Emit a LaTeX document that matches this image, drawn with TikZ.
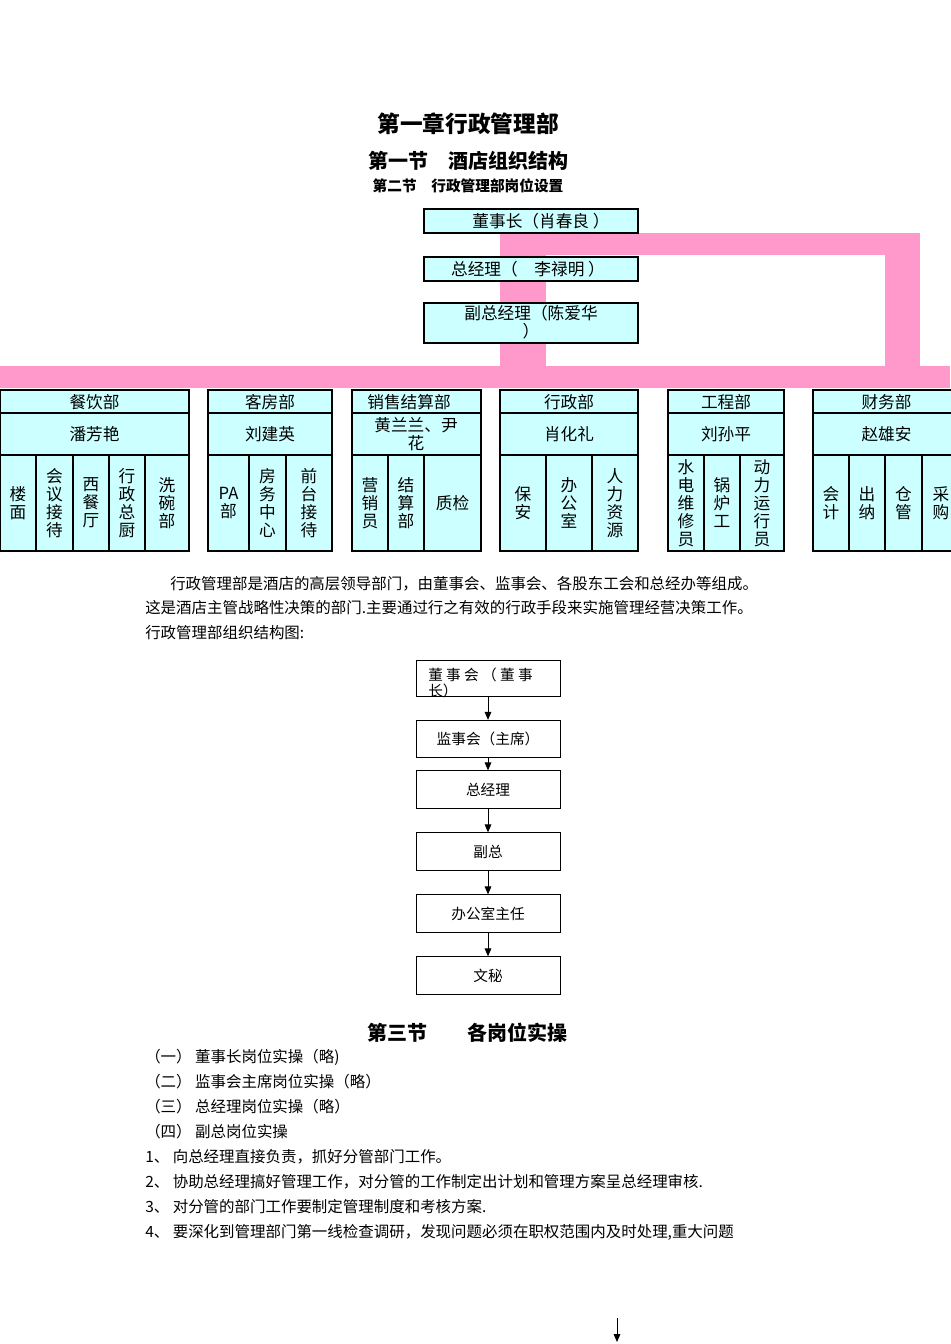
\documentclass[tikz,border=0pt]{standalone}
\usepackage{fontspec}
\setmainfont{Liberation Serif}
\newfontfamily\cjk{Noto Sans CJK SC}
\usetikzlibrary{arrows.meta}
\definecolor{pinkb}{HTML}{FF99CC}
\definecolor{cyanb}{HTML}{CCFFFF}
\begin{document}
\begin{tikzpicture}[x=0.75pt,y=-0.75pt,
 cbox/.style={draw=black,line width=0.8pt,fill=cyanb},
 t/.style={font=\cjk\fontsize{12.5}{13.5}\selectfont,align=center,inner sep=0},
 bt/.style={font=\cjk\fontsize{11.6}{16}\selectfont,anchor=west,inner sep=0},
 fbox/.style={draw=black,line width=0.7pt},
 arr/.style={-{Triangle[length=6pt,width=5pt]},line width=0.7pt}]
\useasboundingbox (0,0) rectangle (950,1344);
% pink bands
\fill[pinkb] (500,233) rectangle (920,255);
\fill[pinkb] (885,233) rectangle (920,366);
\fill[pinkb] (500,255) rectangle (546,366);
\fill[pinkb] (0,366) rectangle (950,388);
% titles
\node[font=\cjk\bfseries\fontsize{17}{18}\selectfont] (h1) at (468,124) {第一章行政管理部};
\node[font=\cjk\bfseries\fontsize{15}{16}\selectfont] (h2) at (468,161) {第一节\quad 酒店组织结构};
\node[font=\cjk\bfseries\fontsize{11}{12}\selectfont] (h3) at (468,186) {第二节\quad 行政管理部岗位设置};
% top boxes
\draw[cbox] (424,209) rectangle (638,233);
\node[t] (ceo) at (541,221) {董事长（肖春良 ）};
\draw[cbox] (424,257) rectangle (638,281);
\node[t] (gm) at (528,269) {总经理（\quad 李禄明 ）};
\draw[cbox] (424,303) rectangle (638,343);
\node[t,align=center] (vgm) at (531,322) {副总经理（陈爱华\\）};
% departments
\newcommand{\dept}[6]{%
 \draw[cbox] (#1,390) rectangle (#2,413);
 \draw[cbox] (#1,413) rectangle (#2,455);
 \node[t] at ({(#1+#2)/2},402) {#3};
 \node[t] at ({(#1+#2)/2},434) {#4};
 \foreach \a/\b/\s in {#5} {\draw[cbox] (\a,455) rectangle (\b,551);
   \node[t] at ({(\a+\b)/2},503) {\s};}
}
\dept{0}{189}{餐饮部}{潘芳艳}{0/36/楼\\面,36/73/会\\议\\接\\待,73/109/西\\餐\\厅,109/145/行\\政\\总\\厨,145/189/洗\\碗\\部}{}
\dept{208}{332}{客房部}{刘建英}{208/249/PA\\部,249/286/房\\务\\中\\心,286/332/前\\台\\接\\待}{}
\draw[cbox] (352,390) rectangle (481,413);
\draw[cbox] (352,413) rectangle (481,455);
\node[t] at (409,402) {销售结算部};
\node[t] at (416,434) {黄兰兰、尹\\花};
\foreach \a/\b/\s in {352/388/营\\销\\员,388/424/结\\算\\部,424/481/质检} {\draw[cbox] (\a,455) rectangle (\b,551); \node[t] at ({(\a+\b)/2},503) {\s};}
\dept{500}{638}{行政部}{肖化礼}{500/546/保\\安,546/592/办\\公\\室,592/638/人\\力\\资\\源}{}
\dept{668}{784}{工程部}{刘孙平}{668/704/水\\电\\维\\修\\员,704/740/锅\\炉\\工,740/784/动\\力\\运\\行\\员}{}
\dept{813}{960}{财务部}{赵雄安}{813/849/会\\计,849/885/出\\纳,885/922/仓\\管,922/960/采\\购}{}
% paragraph
\node[bt] (p1) at (170,584) {行政管理部是酒店的高层领导部门，由董事会、监事会、各股东工会和总经办等组成。};
\node[bt] (p2) at (145,608) {这是酒店主管战略性决策的部门.主要通过行之有效的行政手段来实施管理经营决策工作。};
\node[bt] (p3) at (145,633) {行政管理部组织结构图:};
% flowchart
\node[fbox,minimum width=108pt,minimum height=27pt] (f1) at (488,678) {};
\node[t,font=\cjk\fontsize{11}{12}\selectfont,align=left,anchor=north west] at (428,668) {董 事 会 （ 董 事\\长）};
\node[fbox,minimum width=108pt,minimum height=28pt,font=\cjk\fontsize{11}{12}\selectfont] (f2) at (488,739) {监事会（主席）};
\node[fbox,minimum width=108pt,minimum height=28pt,font=\cjk\fontsize{11}{12}\selectfont] (f3) at (488,789.5) {总经理};
\node[fbox,minimum width=108pt,minimum height=28pt,font=\cjk\fontsize{11}{12}\selectfont] (f4) at (488,851.5) {副总};
\node[fbox,minimum width=108pt,minimum height=28pt,font=\cjk\fontsize{11}{12}\selectfont] (f5) at (488,913.5) {办公室主任};
\node[fbox,minimum width=108pt,minimum height=28pt,font=\cjk\fontsize{11}{12}\selectfont] (f6) at (488,975.5) {文秘};
\draw[arr] (f1) -- (f2); \draw[arr] (f2) -- (f3); \draw[arr] (f3) -- (f4);
\draw[arr] (f4) -- (f5); \draw[arr] (f5) -- (f6);
% section 3
\node[font=\cjk\bfseries\fontsize{15}{16}\selectfont] (h4) at (467,1033) {第三节\qquad 各岗位实操};
\node[bt] at (145,1057) {（一）\ 董事长岗位实操（略)};
\node[bt] at (145,1082) {（二）\ 监事会主席岗位实操（略）};
\node[bt] at (145,1107) {（三）\ 总经理岗位实操（略）};
\node[bt] at (145,1132) {（四）\ 副总岗位实操};
\node[bt] at (145,1157) {1、\ 向总经理直接负责，抓好分管部门工作。};
\node[bt] at (145,1182) {2、\ 协助总经理搞好管理工作，对分管的工作制定出计划和管理方案呈总经理审核.};
\node[bt] at (145,1207) {3、\ 对分管的部门工作要制定管理制度和考核方案.};
\node[bt] at (145,1232) {4、\ 要深化到管理部门第一线检查调研，发现问题必须在职权范围内及时处理,重大问题};
\coordinate (a1) at (617,1318); \coordinate (a2) at (617,1342);
\draw[arr] (a1) -- (a2);
\end{tikzpicture}
\end{document}
